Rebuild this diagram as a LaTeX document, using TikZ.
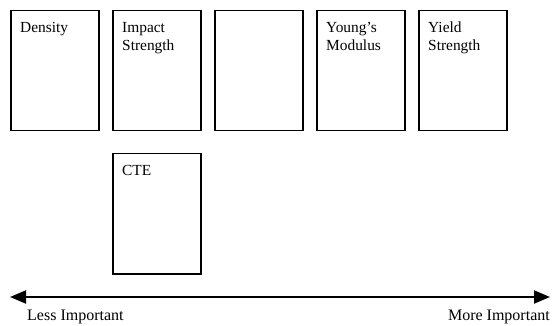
\documentclass[tikz,border=0pt]{standalone}
\usepackage{fontspec}
\setmainfont{Liberation Serif}
\usetikzlibrary{arrows.meta}
\tikzset{
    prop/.style={rectangle,draw,line width=1.5pt,minimum width=88pt,minimum height=120pt,inner sep=0pt,anchor=north west},
    ptext/.style={anchor=north west,inner sep=0pt,align=left,font=\fontsize{15.4}{18}\selectfont},
    axis/.style={{Triangle[length=16pt,width=13pt]}-{Triangle[length=16pt,width=13pt]},line width=2pt},
    slabel/.style={inner sep=0pt,font=\fontsize{16}{18}\selectfont},
}

\begin{document}
\begin{tikzpicture}[x=1pt,y=-1pt]
\useasboundingbox (0,0) rectangle (552,326);
\node[prop] (den) at (10,10) {};
\node[prop] (imp) at (112,10) {};
\node[prop] (emp) at (214,10) {};
\node[prop] (you) at (316,10) {};
\node[prop] (yie) at (418,10) {};
\node[prop] (cte) at (112,153) {};
\node[ptext] (tden) at ([shift={(10,12)}]den.north west) {Density};
\node[ptext] (timp) at ([shift={(10,12)}]imp.north west) {Impact\\Strength};
\node[ptext] (tyou) at ([shift={(10,12)}]you.north west) {Young’s\\Modulus};
\node[ptext] (tyie) at ([shift={(10,12)}]yie.north west) {Yield\\Strength};
\node[ptext] (tcte) at ([shift={(10,12)}]cte.north west) {CTE};
\coordinate (less) at (10,297);
\coordinate (more) at (550,297);
\draw[axis] (less) -- (more);
\node[slabel,anchor=north west] (lless) at ([shift={(17,13)}]less) {Less Important};
\node[slabel,anchor=north east] (lmore) at ([shift={(0,13)}]more) {More Important};
\end{tikzpicture}
\end{document}
